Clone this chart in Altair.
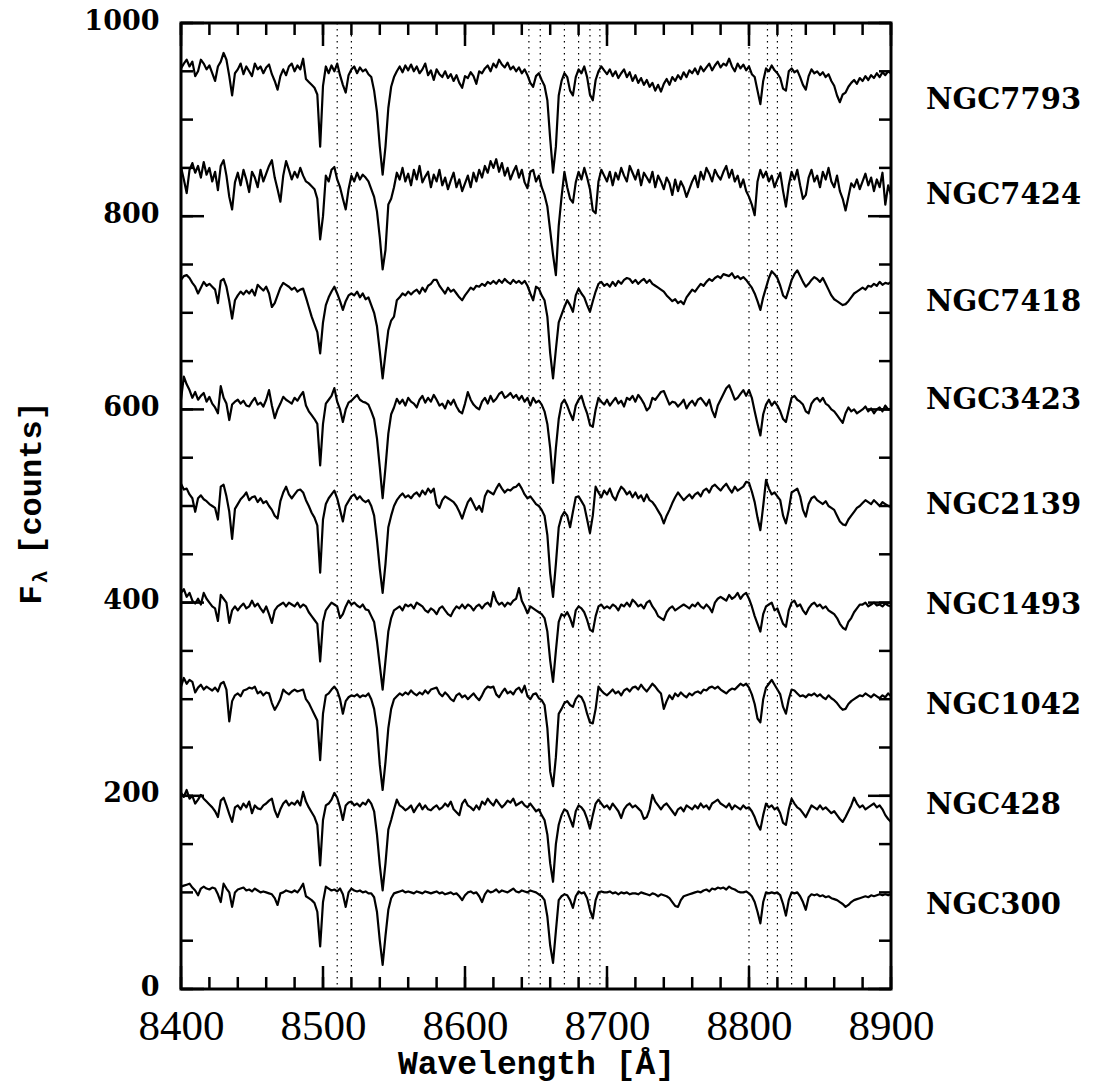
import altair as alt
import pandas as pd

# ---------------- data ----------------
WAVE = list(range(8400, 8901, 2))  # wavelength grid [Angstrom]

GALAXIES = ["NGC7793", "NGC7424", "NGC7418", "NGC3423", "NGC2139",
            "NGC1493", "NGC1042", "NGC428", "NGC300"]

NGC7793 = [
    953, 958, 962, 955, 960, 945, 950, 962, 958, 952,
    956, 948, 940, 955, 960, 969, 962, 945, 925, 948,
    952, 958, 947, 955, 950, 945, 958, 952, 955, 948,
    954, 957, 947, 940, 931, 945, 952, 946, 955, 958,
    950, 956, 952, 963, 942, 939, 936, 933, 926, 872,
    935, 955, 948, 956, 950, 958, 946, 936, 928, 946,
    952, 955, 948, 954, 950, 952, 947, 944, 930, 908,
    872, 843, 872, 912, 934, 944, 950, 955, 949, 956,
    951, 957, 950, 955, 948, 952, 958, 946, 951, 941,
    952, 947, 944, 950, 943, 947, 940, 946, 938, 933,
    945, 943, 949, 945, 937, 950, 948, 953, 956, 950,
    958, 954, 962, 957, 954, 959, 952, 955, 950, 954,
    948, 952, 946, 938, 934, 945, 948, 941, 935, 920,
    880, 845, 872, 925, 940, 948, 944, 930, 925, 944,
    952, 948, 955, 944, 926, 920, 941, 950, 955, 951,
    947, 952, 945, 950, 943, 948, 952, 944, 949, 940,
    946, 938, 943, 936, 941, 934, 938, 930, 936, 929,
    937, 942, 936, 944, 940, 946, 942, 949, 944, 951,
    948, 953, 947, 955, 950, 954, 958, 951, 956, 960,
    954, 958, 956, 963, 955, 950, 958, 953, 957, 951,
    955, 947, 944, 930, 916, 940, 953, 950, 956, 951,
    948, 943, 932, 930, 950, 953, 949, 951, 944, 936,
    931, 945, 952, 948, 950, 946, 949, 944, 947, 940,
    935, 925, 918, 926, 928, 934, 938, 941, 937, 943,
    940, 945, 941, 946, 943, 948, 944, 949, 946, 950,
    948,
]

NGC7424 = [
    851, 838, 824, 848, 855, 845, 852, 840, 856, 843,
    850, 836, 846, 827, 852, 858, 842, 820, 807, 835,
    845, 832, 848, 838, 825, 846, 840, 830, 848, 836,
    844, 852, 858, 840, 828, 815, 842, 857, 848, 838,
    846, 840, 850, 842, 836, 834, 831, 828, 818, 776,
    800, 842, 836, 848, 851, 838, 830, 818, 807, 828,
    842, 836, 845, 838, 843, 840, 836, 828, 820, 805,
    778, 745, 765, 812, 818, 830, 845, 838, 850, 836,
    844, 832, 848, 838, 852, 835, 841, 846, 830, 843,
    836, 848, 832, 840, 828, 837, 845, 830, 838, 826,
    834, 842, 830, 845, 836, 848, 840, 852, 845, 857,
    850, 859, 846, 855, 842, 850, 838, 846, 852, 840,
    848, 835, 829, 846, 848, 836, 842, 830, 822, 810,
    785, 760, 739, 790, 820, 846, 830, 818, 814, 835,
    846, 838, 850, 840, 828, 806, 803, 836, 848, 842,
    836, 846, 832, 845, 838, 850, 842, 836, 852, 845,
    838, 848, 832, 845, 840, 835, 846, 830, 842, 836,
    828, 840, 834, 822, 838, 826, 836, 830, 820, 828,
    836, 842, 830, 846, 838, 850, 844, 836, 848, 842,
    838, 846, 852, 840, 848, 836, 842, 830, 838, 826,
    820, 812, 801, 836, 848, 840, 846, 836, 842, 830,
    838, 845, 826, 810, 832, 846, 838, 848, 832, 818,
    822, 840, 848, 836, 842, 830, 846, 838, 850, 836,
    830, 842, 826, 818, 806, 820, 834, 830, 838, 828,
    836, 844, 832, 840, 826, 838, 830, 845, 812, 832,
    822,
]

NGC7418 = [
    734, 738, 739, 736, 731, 727, 720, 726, 732, 728,
    730, 727, 724, 710, 733, 735, 727, 712, 694, 713,
    718, 722, 719, 723, 720, 724, 718, 729, 726, 723,
    727, 720, 706, 710, 718, 726, 731, 729, 727, 724,
    726, 722, 724, 725, 716, 706, 696, 688, 680, 658,
    690, 708, 716, 722, 727, 720, 712, 703, 712, 718,
    720, 718, 722, 716, 720, 714, 716, 708, 700, 686,
    660, 632, 658, 682, 692, 696, 713, 716, 720, 718,
    722, 719, 722, 724, 720, 726, 722, 728, 730, 734,
    734, 728, 724, 720, 726, 722, 724, 720, 716, 713,
    718, 722, 726, 724, 728, 727, 730, 728, 732, 730,
    733, 730, 734, 731, 735, 732, 730, 734, 731, 733,
    730, 733, 728, 720, 713, 727, 725, 718, 713, 696,
    658, 632, 662, 690, 698, 706, 713, 708, 701, 718,
    725, 720, 716, 708, 701, 712, 722, 730, 732, 728,
    730, 727, 732, 728, 733, 730, 734, 736, 735, 731,
    734, 730, 733, 735, 731, 734, 730, 728, 726, 724,
    722, 718, 715, 712, 714, 710, 712, 709, 716, 720,
    724, 722, 726, 730, 728, 732, 735, 733, 736, 738,
    736, 740, 739, 738, 741, 736, 738, 735, 737, 734,
    730, 726, 720, 712, 703, 716, 726, 736, 743, 740,
    736, 728, 718, 715, 724, 734, 740, 744, 738, 732,
    727, 730, 734, 737, 735, 732, 736, 730, 724, 718,
    714, 712, 710, 708, 709, 712, 716, 720, 722, 724,
    726, 724, 728, 727, 730, 728, 732, 729, 731, 730,
    732,
]

NGC3423 = [
    610, 634, 626, 620, 612, 618, 610, 614, 617, 608,
    613, 606, 602, 596, 624, 612, 606, 589, 605, 608,
    610, 606, 609, 604, 603, 608, 612, 605, 607, 603,
    610, 620, 604, 591, 600, 606, 613, 610, 608, 606,
    612, 609, 614, 618, 604, 598, 594, 590, 585, 542,
    585, 606, 610, 614, 622, 608, 600, 587, 600, 607,
    609, 612, 615, 610, 608, 607, 605, 598, 590, 570,
    540, 508, 540, 575, 595, 602, 611, 606, 610, 604,
    612, 608, 606, 602, 610, 614, 607, 612, 608, 615,
    610, 604, 606, 601, 609, 605, 610, 603, 598, 596,
    606, 618, 610, 605, 602, 600, 608, 612, 606, 614,
    608, 611, 616, 618, 612, 614, 617, 612, 615, 610,
    614, 608, 612, 604, 612, 607, 609, 605, 598, 585,
    560, 524, 560, 590, 606, 610, 604, 596, 589, 604,
    610, 614, 604, 596, 584, 582, 600, 612, 608, 605,
    610, 604, 608, 612, 606, 609, 603, 612, 610, 614,
    608, 615, 611, 606, 599, 602, 612, 610, 614, 618,
    619, 612, 605, 608, 607, 603, 606, 610, 601, 606,
    609, 604, 610, 612, 608, 604, 610, 599, 592, 604,
    610, 616, 622, 625, 618, 610, 612, 616, 620, 614,
    620, 612, 598, 585, 573, 595, 605, 610, 604, 608,
    604, 598, 590, 587, 600, 612, 614, 610, 608, 605,
    598, 596, 606, 610, 612, 608, 612, 606, 604, 600,
    598, 594, 590, 586, 596, 602, 598, 600, 596, 598,
    600, 603, 598, 601, 596, 600, 602, 598, 604, 600,
    600,
]

NGC2139 = [
    523, 517, 518, 512, 508, 494, 508, 511, 507, 505,
    502, 500, 498, 486, 520, 522, 510, 494, 466, 497,
    502, 507, 510, 514, 506, 509, 510, 504, 508, 503,
    505, 500, 496, 490, 487, 505, 514, 520, 512, 508,
    512, 516, 517, 514, 506, 500, 493, 488, 480, 431,
    486, 502, 508, 512, 516, 508, 496, 484, 500, 505,
    510, 512, 507, 510, 506, 504, 506, 500, 490, 465,
    435, 410, 440, 478, 490, 500, 506, 510, 513, 509,
    511, 508, 512, 514, 510, 516, 512, 518, 514, 518,
    502, 498, 506, 510, 508, 506, 504, 500, 494, 487,
    496, 504, 508, 502, 496, 500, 494, 510, 516, 514,
    512, 518, 523, 518, 514, 517, 516, 519, 520, 523,
    518, 512, 508, 510, 506, 502, 500, 496, 490, 470,
    430, 406, 440, 478, 489, 494, 490, 478, 494, 509,
    510, 505, 500, 486, 472, 490, 520, 514, 509, 516,
    512, 518, 510, 506, 514, 520, 517, 512, 515, 509,
    514, 508, 511, 505, 512, 506, 504, 500, 495, 490,
    482, 490, 496, 503, 509, 514, 510, 506, 509, 512,
    508, 512, 514, 510, 516, 518, 514, 520, 522, 519,
    516, 520, 523, 518, 514, 520, 516, 518, 520, 525,
    524, 515, 504, 488, 475, 500, 527, 518, 512, 514,
    510, 506, 490, 482, 496, 514, 516, 518, 510, 496,
    489, 502, 508, 510, 506, 504, 502, 505, 500, 498,
    496, 490, 484, 481, 480, 486, 490, 494, 498, 500,
    503, 506, 504, 502, 506, 503, 500, 504, 502, 500,
    499,
]

NGC1493 = [
    410, 414, 406, 410, 402, 399, 404, 398, 410, 404,
    400, 396, 394, 381, 408, 404, 400, 379, 392, 396,
    392, 396, 399, 394, 396, 402, 396, 399, 394, 390,
    396, 388, 379, 392, 396, 398, 400, 396, 400, 398,
    396, 400, 395, 398, 396, 390, 386, 382, 378, 339,
    380, 392, 396, 400, 398, 396, 384, 388, 396, 402,
    398, 400, 397, 395, 398, 393, 392, 386, 380, 360,
    335, 310, 340, 370, 384, 392, 394, 396, 392, 398,
    396, 398, 394, 400, 398, 396, 392, 390, 394, 392,
    388, 394, 396, 392, 388, 386, 392, 396, 394, 398,
    394, 398, 396, 392, 396, 398, 394, 398, 400, 396,
    411, 402, 398, 400, 396, 400, 398, 402, 404, 415,
    402, 396, 389, 396, 394, 392, 390, 388, 384, 370,
    340, 318, 350, 380, 388, 386, 390, 384, 375, 392,
    396, 394, 390, 382, 372, 370, 386, 396, 398, 394,
    396, 394, 398, 396, 392, 398, 396, 400, 396, 403,
    400, 396, 398, 394, 400, 402, 396, 392, 386, 384,
    382, 390, 394, 396, 392, 394, 396, 398, 396, 394,
    398, 396, 400, 396, 394, 398, 395, 390, 400, 404,
    406, 404, 402, 408, 404, 406, 410, 404, 408, 410,
    404, 396, 386, 378, 370, 388, 396, 398, 400, 392,
    394, 386, 378, 375, 392, 400, 402, 396, 398, 392,
    388, 394, 398, 400, 396, 398, 394, 396, 392, 390,
    388, 384, 378, 374, 372, 380, 384, 390, 394, 398,
    398, 400, 396, 398, 400, 397, 398, 396, 399, 397,
    396,
]

NGC1042 = [
    313, 322, 316, 320, 318, 307, 312, 315, 310, 313,
    311, 309, 312, 308, 316, 318, 310, 277, 298, 304,
    306, 303, 309, 310, 312, 311, 313, 306, 308, 304,
    307, 306, 296, 289, 294, 300, 310, 307, 305, 308,
    310, 308, 309, 310, 300, 296, 290, 284, 278, 237,
    285, 304, 306, 310, 313, 309, 300, 285, 298, 302,
    304, 303, 305, 302, 304, 303, 306, 300, 290, 270,
    232, 206, 235, 270, 290, 300, 303, 306, 304, 307,
    305, 309, 306, 304, 307, 305, 309, 306, 310, 311,
    312, 306, 303, 307, 304, 300, 298, 304, 306, 302,
    304, 300, 303, 306, 302, 299, 304, 310, 313, 312,
    313, 305, 302, 307, 311, 306, 308, 305, 310, 312,
    307, 314, 303, 300, 305, 306, 301, 299, 294, 270,
    225, 210, 240, 285, 290, 296, 298, 294, 292, 300,
    304, 302, 296, 285, 276, 275, 290, 313, 309, 306,
    304, 307, 310, 306, 308, 304, 309, 311, 308, 312,
    313, 310, 315, 311, 308, 312, 316, 313, 309, 306,
    290, 298, 304, 300, 306, 303, 307, 304, 302, 306,
    304, 307, 308, 306, 310, 309, 312, 313, 311, 313,
    310, 308, 306, 309, 311, 310, 313, 316, 314, 316,
    312, 305, 295, 280, 276, 300, 312, 316, 320, 315,
    310, 305, 292, 285, 300, 310, 309, 306, 303, 304,
    302, 305, 304, 306, 303, 305, 302, 300, 304, 301,
    299, 296, 292, 289, 290, 295, 298, 300, 302, 304,
    303, 306, 304, 302, 305, 303, 301, 304, 302, 306,
    303,
]

NGC428 = [
    203, 199, 206, 197, 200, 192, 196, 201, 197, 194,
    191, 188, 184, 178, 195, 198, 190, 181, 173, 188,
    190, 186, 192, 188, 194, 182, 190, 187, 186, 190,
    192, 195, 197, 185, 178, 186, 192, 195, 190, 193,
    191, 195, 190, 204, 194, 188, 183, 178, 170, 128,
    175, 190, 192, 196, 203, 198, 188, 175, 190, 193,
    194, 190, 192, 189, 193, 191, 196, 192, 184, 160,
    128, 102, 130, 165, 175, 186, 196, 190, 188, 185,
    187, 190, 183, 188, 192, 186, 190, 186, 185, 188,
    190, 186, 188, 192, 189, 194, 186, 183, 180, 192,
    196, 190, 188, 185, 190, 186, 194, 191, 197, 193,
    190, 196, 192, 188, 191, 195, 193, 197, 190, 192,
    194, 190, 188, 192, 188, 184, 186, 180, 175, 160,
    130, 111, 150, 170, 180, 186, 184, 176, 168, 184,
    190, 188, 184, 176, 166, 180, 192, 196, 192, 188,
    190, 186, 192, 188, 184, 177, 186, 190, 192, 188,
    190, 187, 184, 176, 178, 186, 201, 194, 190, 186,
    190, 192, 188, 184, 180, 186, 188, 184, 190, 188,
    186, 190, 187, 192, 188, 190, 186, 192, 194, 196,
    192, 190, 188, 192, 186, 190, 188, 186, 190, 187,
    188, 184, 178, 170, 165, 180, 192, 188, 190, 186,
    188, 182, 172, 170, 186, 197, 192, 188, 186, 182,
    178, 184, 190, 188, 186, 190, 186, 188, 185, 182,
    184, 180, 176, 173, 178, 184, 190, 198, 192, 188,
    190, 186, 188, 190, 192, 188, 190, 186, 180, 176,
    173,
]

NGC300 = [
    106, 107, 108, 109, 105, 102, 97, 104, 106, 104,
    103, 105, 104, 98, 90, 109, 104, 100, 85, 100,
    103, 104, 105, 102, 103, 101, 104, 102, 100, 101,
    100, 99, 98, 94, 87, 99, 100, 102, 101, 100,
    102, 100, 104, 109, 96, 94, 92, 89, 80, 44,
    90, 106, 104, 102, 103, 101, 104, 98, 85, 100,
    104, 102, 101, 102, 100, 101, 99, 99, 95, 80,
    50, 25, 55, 82, 94, 99, 100, 101, 102, 100,
    101, 100, 99, 101, 100, 99, 101, 100, 99, 100,
    101, 99, 100, 98, 99, 100, 98, 99, 96, 92,
    97, 100, 101, 99, 100, 96, 90, 98, 102, 100,
    101, 103, 100, 102, 101, 100, 102, 104, 101, 100,
    102, 101, 100, 102, 101, 100, 98, 96, 92, 75,
    45, 27, 60, 92, 96, 98, 97, 92, 84, 96,
    101, 99, 100, 94, 82, 73, 92, 100, 101, 100,
    100, 101, 99, 100, 98, 100, 99, 100, 98, 99,
    99, 98, 100, 99, 98, 97, 99, 98, 96, 98,
    97, 96, 94, 90, 86, 85, 92, 96, 97, 98,
    99, 100, 101, 100, 102, 103, 101, 104, 103, 105,
    104, 105, 103, 106, 104, 103, 101, 100, 100, 101,
    99, 96, 90, 80, 68, 90, 100, 99, 100, 99,
    100, 97, 88, 76, 92, 100, 99, 100, 96, 90,
    82, 95, 98, 97, 98, 96, 97, 95, 96, 94,
    93, 92, 90, 88, 85, 87, 90, 92, 93, 94,
    95, 96, 95, 97, 96, 97, 98, 97, 98, 97,
    98,
]

SPECTRA = [NGC7793, NGC7424, NGC7418, NGC3423, NGC2139,
           NGC1493, NGC1042, NGC428, NGC300]

LABEL_Y = [920, 822, 711, 610, 501, 398, 294, 190, 87]

MARKER_LINES = [8510, 8520, 8645, 8653, 8670, 8680, 8688, 8695,
                8800, 8813, 8820, 8830]

X_MAJOR = [8400, 8500, 8600, 8700, 8800, 8900]
X_MINOR = list(range(8400, 8901, 20))
Y_MAJOR = [0, 200, 400, 600, 800, 1000]
Y_MINOR = list(range(0, 1001, 50))

# ---------------- layout ----------------
W, H = 710, 966
MINOR_LEN, MAJOR_LEN = 12, 23

rows = []
for name, flux in zip(GALAXIES, SPECTRA):
    for w, f in zip(WAVE, flux):
        rows.append({"galaxy": name, "wave": w, "flux": f})
spec_df = pd.DataFrame(rows)

xs = alt.Scale(domain=[8400, 8900], nice=False, zero=False)
ys = alt.Scale(domain=[0, 1000], nice=False)

x_axis = alt.Axis(values=X_MAJOR, format="d", ticks=False, domain=False,
                  grid=False, labelFont="Liberation Serif", labelFontSize=43,
                  labelColor="black", labelPadding=16, labelFlush=False,
                  labelOverlap=False,
                  title="Wavelength [Å]", titleFont="Liberation Mono",
                  titleFontSize=33, titleFontWeight="bold", titleColor="black",
                  titleX=W / 2, titleY=74, titleAlign="center",
                  titleBaseline="middle")
y_axis = alt.Axis(values=Y_MAJOR, format="d", ticks=False, domain=False,
                  grid=False, labelFont="DejaVu Serif", labelFontSize=27,
                  labelFontWeight="bold", labelColor="black",
                  labelPadding=22, labelOffset=-2, labelFlush=False,
                  labelOverlap=False, title=None)

spectra = alt.Chart(spec_df).mark_line(
    color="black", strokeWidth=2.2, strokeJoin="round"
).encode(
    x=alt.X("wave:Q", scale=xs, axis=x_axis),
    y=alt.Y("flux:Q", scale=ys, axis=y_axis),
    detail="galaxy:N",
)

markers = alt.Chart(pd.DataFrame({"w": MARKER_LINES})).mark_rule(
    color="black", strokeWidth=1.2, strokeDash=[1.5, 4.5]
).encode(x=alt.X("w:Q", scale=xs))

xmin_df = pd.DataFrame({"t": X_MINOR})
xmaj_df = pd.DataFrame({"t": X_MAJOR})
ymin_df = pd.DataFrame({"t": Y_MINOR})
ymaj_df = pd.DataFrame({"t": Y_MAJOR})

tick_style = dict(color="black", strokeWidth=2.5)


def xticks(df, length):
    bottom = alt.Chart(df).mark_rule(**tick_style).encode(
        x=alt.X("t:Q", scale=xs), y=alt.value(H), y2=alt.value(H - length))
    top = alt.Chart(df).mark_rule(**tick_style).encode(
        x=alt.X("t:Q", scale=xs), y=alt.value(0), y2=alt.value(length))
    return bottom + top


def yticks(df, length):
    left = alt.Chart(df).mark_rule(**tick_style).encode(
        y=alt.Y("t:Q", scale=ys), x=alt.value(0), x2=alt.value(length))
    right = alt.Chart(df).mark_rule(**tick_style).encode(
        y=alt.Y("t:Q", scale=ys), x=alt.value(W), x2=alt.value(W - length))
    return left + right


labels = alt.Chart(pd.DataFrame({"name": GALAXIES, "ly": LABEL_Y})).mark_text(
    align="left", baseline="middle", font="DejaVu Serif", fontSize=29,
    fontWeight="bold", color="black"
).encode(
    x=alt.value(W + 35),
    y=alt.Y("ly:Q", scale=ys),
    text="name:N",
)

ytitle_font = dict(font="Liberation Mono", fontWeight="bold", color="black",
                   angle=270, baseline="middle")
yt_main = alt.Chart(pd.DataFrame({"s": ["[counts]"]})).mark_text(
    align="center", fontSize=32, **ytitle_font
).encode(text="s:N", x=alt.value(-150), y=alt.value(455))
yt_f = alt.Chart(pd.DataFrame({"s": ["F"]})).mark_text(
    align="center", fontSize=32, **ytitle_font
).encode(text="s:N", x=alt.value(-150), y=alt.value(572))
yt_l = alt.Chart(pd.DataFrame({"s": ["λ"]})).mark_text(
    align="center", fontSize=21, **ytitle_font
).encode(text="s:N", x=alt.value(-140), y=alt.value(554))

chart = alt.layer(
    markers, spectra,
    xticks(xmin_df, MINOR_LEN), xticks(xmaj_df, MAJOR_LEN),
    yticks(ymin_df, MINOR_LEN), yticks(ymaj_df, MAJOR_LEN),
    labels, yt_main, yt_f, yt_l,
).properties(
    width=W, height=H,
    autosize=alt.AutoSizeParams(type="none"),
    padding={"left": 181, "top": 23, "right": 208, "bottom": 102},
    background="white",
).configure_view(
    stroke="black", strokeWidth=3
)

chart.save("out.html", embed_options={"renderer": "svg", "actions": False})
